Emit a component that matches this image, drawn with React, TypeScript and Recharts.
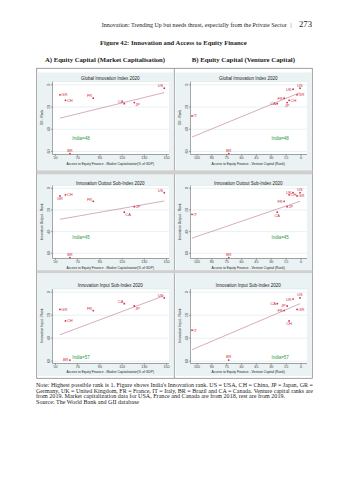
import React from 'react';
import { ScatterChart, Scatter, XAxis, YAxis, CartesianGrid } from 'recharts';

// ---------------- data ----------------
const mcCountries = ['GR', 'CH', 'BR', 'FR', 'CA', 'JP', 'US'];
const mcValues = [54, 59, 63, 84, 112, 121, 148]; // market capitalisation, % of GDP

const vcCountries = ['IT', 'BR', 'CA', 'FR', 'JP', 'CH', 'UK', 'GR', 'US'];
const vcRanks = [110, 73, 24, 17, 14, 12, 8, 4, 1]; // venture capital rank

const rankCountries = ['US', 'UK', 'GR', 'FR', 'CH', 'JP', 'CA', 'IT', 'BR'];
const giiRanks = [3, 4, 9, 12, 14, 16, 17, 28, 62];
const outputRanks = [4, 4, 7, 12, 6, 17, 22, 24, 64];
const inputRanks = [5, 6, 15, 16, 25, 12, 10, 33, 59];

const indiaRanks = [48, 45, 57];

const mcTicks = [50, 70, 90, 110, 130, 150];
const vcTicks = [105, 90, 75, 60, 45, 30, 15, 0];
const rankTicks = [0, 20, 40, 60];

// fitted lines: end x values and fitted ranks
const mcFitX = [54, 148];
const giiMcFit = [30, 7];
const outMcFit = [28.6, 11.7];
const inMcFit = [37, 3];
const vcFitX = [110, 1];
const giiVcFit = [47, 7];
const outVcFit = [46, 12];
const inVcFit = [50, 10];

const panelTitles = ['Global Innovation Index 2020', 'Innovation Output Sub-Index 2020', 'Innovation Input Sub-Index 2020'];
const yTitles = ['GII - Rank', 'Innovation Output - Rank', 'Innovation Input - Rank'];
const xTitles = ['Access to Equity Finance - Market Capitalisation(% of GDP)', 'Access to Equity Finance - Venture Capital (Rank)'];

// ---------------- style ----------------
const SANS = '"Liberation Sans", Arial, sans-serif';
const SERIF = '"Liberation Serif", "Times New Roman", serif';
const RED = '#d12d3f';
const FIT = '#c58aa3';
const GREEN = '#2e9a3e';
const BG = '#eaf2f3';
const AXIS = '#555';

const indiaTextX = [73, 21]; // annotation placement (data units) for left / right panels

const rowsGeo = [
  { top: 72.5, bottom: 170, titleY: 78, plotTop: 81, plotBottom: 154, t0: 84.3, t60: 151, xTitleY: 164 },
  { top: 175, bottom: 270, titleY: 183.3, plotTop: 185.5, plotBottom: 258.5, t0: 188.3, t60: 253.3, xTitleY: 267.3 },
  { top: 273.5, bottom: 376, titleY: 285, plotTop: 288.5, plotBottom: 363, t0: 291.7, t60: 360.7, xTitleY: 371.5 },
];
const colsGeo = [
  { left: 37.5, right: 173, plotLeft: 52, plotRight: 168.5, xDomain: [50 + (52 - 55) / 1.11, 50 + (168.5 - 55) / 1.11], reversed: false },
  { left: 175.5, right: 311.5, plotLeft: 190, plotRight: 306.5, xDomain: [(300.5 - 306.5) / 0.9905, (300.5 - 190) / 0.9905], reversed: true },
];

const labelPos: Record<string, string>[][] = [
  [
    { GR: 'r', CH: 'r', BR: 't', FR: 'tl', CA: 'tl', JP: 'br', US: 'tl' },
    { IT: 'r', BR: 't', CA: 'l', FR: 'l', JP: 'b', CH: 'r', UK: 'l', GR: 'r', US: 't' },
  ],
  [
    { GR: 'b', CH: 'r', BR: 't', FR: 'tl', CA: 'br', JP: 'r', US: 'tl' },
    { IT: 'r', BR: 't', CA: 'b', FR: 'l', JP: 'r', CH: 'r', UK: 'l', GR: 'r', US: 't' },
  ],
  [
    { GR: 'r', CH: 'r', BR: 'l', FR: 'tl', CA: 'tl', JP: 'br', US: 'tl' },
    { IT: 'r', BR: 't', CA: 'l', JP: 'l', FR: 'l', CH: 'b', UK: 'l', GR: 'r', US: 't' },
  ],
];

const OFFS: Record<string, { dx: number; dy: number; anchor: 'start' | 'end' | 'middle' }> = {
  r: { dx: 1.4, dy: 1.4, anchor: 'start' },
  l: { dx: -1.4, dy: 1.4, anchor: 'end' },
  t: { dx: 0, dy: -1.6, anchor: 'middle' },
  b: { dx: 0, dy: 4.4, anchor: 'middle' },
  tl: { dx: -1, dy: -0.8, anchor: 'end' },
  br: { dx: 1, dy: 3.8, anchor: 'start' },
};

const rankSeries = [giiRanks, outputRanks, inputRanks];
const mcFits = [giiMcFit, outMcFit, inMcFit];
const vcFits = [giiVcFit, outVcFit, inVcFit];

function buildPoints(row: number, col: number) {
  const ranks = rankSeries[row];
  const names = col === 0 ? mcCountries : vcCountries;
  const xs = col === 0 ? mcValues : vcRanks;
  return names.map((n, i) => ({ name: n, x: xs[i], y: ranks[rankCountries.indexOf(n)] }));
}
function buildFit(row: number, col: number) {
  const xs = col === 0 ? mcFitX : vcFitX;
  const ys = col === 0 ? mcFits[row] : vcFits[row];
  return xs.map((x, i) => ({ x, y: ys[i] }));
}

const XTick = (p: any) => (
  <text x={p.x} y={p.y} dy={2.7} textAnchor="middle" fontSize={3.7} fill="#444" fontFamily={SANS}>
    {p.payload.value}
  </text>
);
const YTick = (p: any) => (
  <text x={p.x} y={p.y} transform={`rotate(-90 ${p.x} ${p.y})`} textAnchor="middle" fontSize={3.7} fill="#444" fontFamily={SANS}>
    {p.payload.value}
  </text>
);

function Panel({ row, col }: { row: number; col: number }) {
  const r = rowsGeo[row];
  const c = colsGeo[col];
  const W = c.right - c.left;
  const H = r.bottom - r.top;
  const k = (r.t60 - r.t0) / 60;
  const yDomain = [(r.plotTop - r.t0) / k, (r.plotBottom - r.t0) / k];
  const pos = labelPos[row][col];
  const points = buildPoints(row, col);
  const fit = buildFit(row, col);
  const india = [{ x: indiaTextX[col], y: indiaRanks[row] }];
  const pointShape = (p: any) => {
    const o = OFFS[pos[p.payload.name] || 'r'];
    return (
      <g>
        <circle cx={p.cx} cy={p.cy} r={0.9} fill={RED} />
        <text x={p.cx + o.dx} y={p.cy + o.dy} textAnchor={o.anchor} fontSize={4} fill={RED} fontFamily={SANS}>
          {p.payload.name}
        </text>
      </g>
    );
  };
  const indiaShape = (p: any) => (
    <text x={p.cx} y={p.cy + 1.5} textAnchor="middle" fontSize={4.5} fill={GREEN} fontFamily={SANS}>
      {`India=${indiaRanks[row]}`}
    </text>
  );
  return (
    <div style={{ position: 'absolute', left: c.left, top: r.top, width: W, height: H }}>
      <ScatterChart
        width={W}
        height={H}
        margin={{ top: r.plotTop - r.top, right: c.right - c.plotRight, bottom: 0, left: 0 }}
      >
        <CartesianGrid vertical={false} fill="#ffffff" stroke="#dce6e9" strokeWidth={0.6} />
        <XAxis
          type="number"
          dataKey="x"
          domain={c.xDomain as [number, number]}
          allowDataOverflow
          reversed={c.reversed}
          ticks={col === 0 ? mcTicks : vcTicks}
          interval={0}
          height={r.bottom - r.plotBottom}
          tickSize={1.5}
          tickMargin={0.5}
          tick={<XTick />}
          axisLine={{ stroke: AXIS, strokeWidth: 0.5 }}
          tickLine={{ stroke: AXIS, strokeWidth: 0.5 }}
        />
        <YAxis
          type="number"
          dataKey="y"
          domain={yDomain as [number, number]}
          allowDataOverflow
          reversed
          ticks={rankTicks}
          interval={0}
          width={c.plotLeft - c.left}
          tickSize={1.5}
          tickMargin={1}
          tick={<YTick />}
          axisLine={{ stroke: AXIS, strokeWidth: 0.5 }}
          tickLine={{ stroke: AXIS, strokeWidth: 0.5 }}
        />
        <Scatter data={fit} line={{ stroke: FIT, strokeWidth: 0.7 }} shape={() => <g />} isAnimationActive={false} />
        <Scatter data={points} shape={pointShape} isAnimationActive={false} />
        <Scatter data={india} shape={indiaShape} isAnimationActive={false} />
      </ScatterChart>
    </div>
  );
}

const noteLines = [
  "Note: Highest possible rank is 1. Figure shows India's Innovation rank. US = USA, CH = China, JP = Japan, GR =",
  'Germany, UK = United Kingdom, FR = France, IT = Italy, BR = Brazil and CA = Canada. Venture capital ranks are',
  'from 2019. Market capitalization data for USA, France and Canada are from 2018, rest are from 2019.',
  'Source: The World Bank and GII database',
];
const noteWidths = [277, 277, 249, 103];

export default function App() {
  return (
    <div style={{ position: 'absolute', left: 0, top: 0, width: 349, height: 480, background: '#fff' }}>
      <svg width={349} height={480} style={{ position: 'absolute', left: 0, top: 0 }}>
        <text x={101.7} y={26.7} fontSize={5.3} fontFamily={SERIF} fill="#222" textLength={185} lengthAdjust="spacingAndGlyphs">
          Innovation: Trending Up but needs thrust, especially from the Private Sector
        </text>
        <text x={290.5} y={26.7} fontSize={5.5} fontFamily={SERIF} fill="#444">|</text>
        <text x={299} y={27.3} fontSize={9.2} fontFamily={SERIF} fill="#222" textLength={13} lengthAdjust="spacingAndGlyphs">273</text>
        <text x={100} y={45.2} fontSize={5.6} fontWeight="bold" fontFamily={SERIF} fill="#222" textLength={146.7} lengthAdjust="spacingAndGlyphs">
          Figure 42: Innovation and Access to Equity Finance
        </text>
        <text x={45} y={62} fontSize={5.5} fontWeight="bold" fontFamily={SERIF} fill="#222" textLength={120} lengthAdjust="spacingAndGlyphs">
          A) Equity Capital (Market Capitalisation)
        </text>
        <text x={191.7} y={62} fontSize={5.5} fontWeight="bold" fontFamily={SERIF} fill="#222" textLength={103.3} lengthAdjust="spacingAndGlyphs">
          B)  Equity Capital (Venture Capital)
        </text>
        {/* box */}
        <rect x={36.7} y={68.3} width={275.6} height={310} fill="none" stroke="#888" strokeWidth={0.8} />
        <line x1={174.3} y1={68.3} x2={174.3} y2={378.3} stroke="#888" strokeWidth={0.8} />
        <rect x={36.7} y={170.3} width={275.6} height={4.2} fill="#cfcfcf" />
        <rect x={36.7} y={270.2} width={275.6} height={3.1} fill="#cfcfcf" />
        {rowsGeo.map((r, ri) =>
          colsGeo.map((c, ci) => {
            const cx = (c.plotLeft + c.plotRight) / 2;
            const cy = (r.plotTop + r.plotBottom) / 2;
            const yx = c.plotLeft - 9.5;
            return (
              <g key={`${ri}-${ci}`}>
                <rect x={c.left} y={r.top} width={c.right - c.left} height={r.bottom - r.top} fill={BG} />
                <text x={cx} y={r.titleY + 1.6} textAnchor="middle" fontSize={4.5} fontFamily={SANS} fill="#222">
                  {panelTitles[ri]}
                </text>
                <text x={cx} y={r.xTitleY + 1.2} textAnchor="middle" fontSize={3.3} fontFamily={SANS} fill="#222">
                  {xTitles[ci]}
                </text>
                <text x={yx} y={cy} transform={`rotate(-90 ${yx} ${cy})`} textAnchor="middle" fontSize={3.3} fontFamily={SANS} fill="#222">
                  {yTitles[ri]}
                </text>
              </g>
            );
          })
        )}
        {noteLines.map((t, i) => (
          <text key={i} x={36} y={386.7 + i * 5.8} fontSize={5.2} fontFamily={SERIF} fill="#222" textLength={noteWidths[i]} lengthAdjust="spacingAndGlyphs">
            {t}
          </text>
        ))}
      </svg>
      {rowsGeo.map((_, ri) => colsGeo.map((_, ci) => <Panel key={`p${ri}${ci}`} row={ri} col={ci} />))}
    </div>
  );
}
